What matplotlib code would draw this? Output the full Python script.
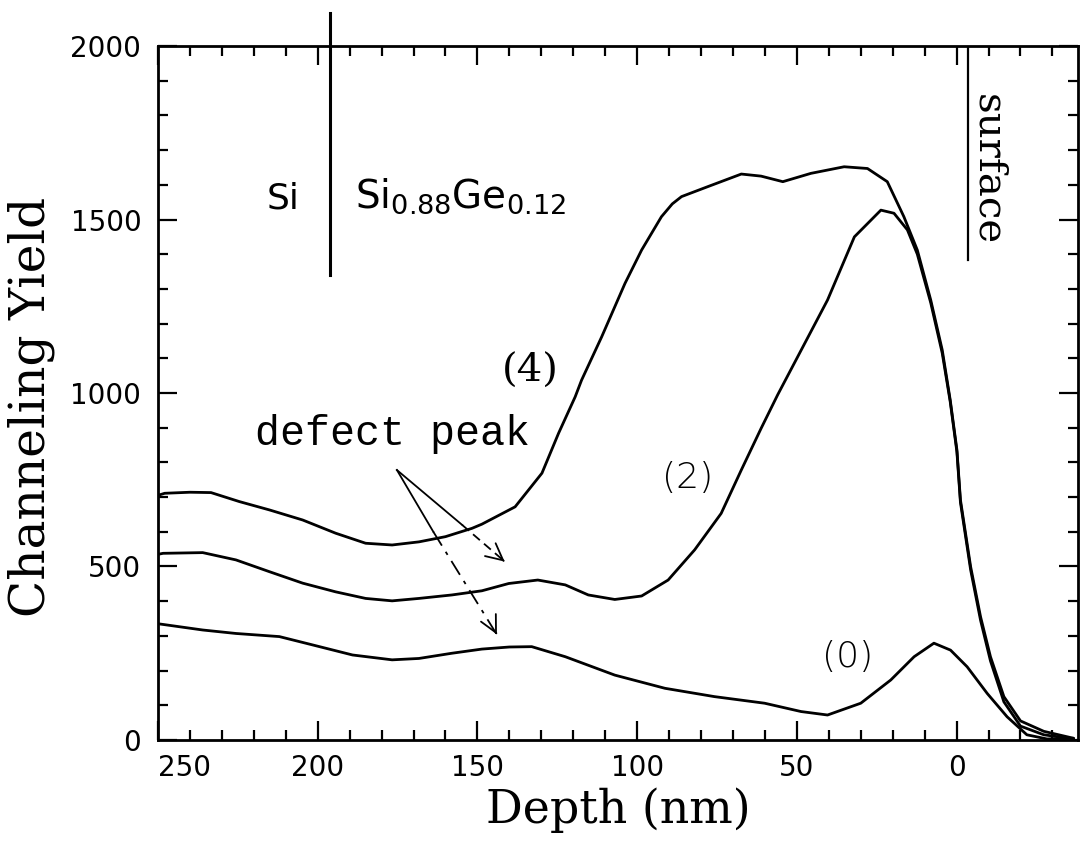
import matplotlib
matplotlib.use("Agg")
import matplotlib.pyplot as plt
from matplotlib.ticker import MultipleLocator

# Channeling yield vs depth, three curves (0), (2), (4)
depth4 = [250, 247.9, 240, 233.4, 224.5, 215.1, 204.7, 194.4, 185, 176.7, 168.3, 160,
          151.7, 148.6, 138.2, 129.8, 124.6, 119.4, 117.4, 111.1, 103.8, 98.6,
          92.4, 89, 86.1, 77.8, 67.4, 61.2, 54.4, 45.6, 35.2, 27.9, 21.7, 16.5,
          12.3, 8.1, 4.5, 2.0, -0.1, -1.2, -4.4, -7.5, -10.6, -14.8, -20, -27.3, -36.6]
yield4 = [705, 711, 714, 713, 687, 663, 634, 596, 567, 562, 571, 586,
          610, 622, 672, 769, 884, 989, 1037, 1162, 1316, 1412,
          1508, 1545, 1566, 1595, 1631, 1625, 1609, 1633, 1652, 1647, 1609, 1508,
          1412, 1268, 1124, 980, 836, 692, 499, 355, 240, 125, 55, 25, 5]

depth2 = [250, 248.4, 236, 225.6, 215.1, 204.7, 194.4, 185, 176.7, 168.3, 158,
          148.6, 140.2, 131.1, 122.5, 115.3, 107, 98.6, 90.3, 82, 73.7, 67.4,
          61.2, 56, 50.8, 40.4, 32, 23.7, 19.6, 15.4, 12.3, 8.1, 4.5, 2.0, -0.1,
          -1.2, -4.4, -7.5, -10.6, -14.8, -20, -27.3, -36.6]
yield2 = [535, 538, 540, 519, 485, 452, 427, 408, 401, 408, 418,
          430, 451, 461, 447, 418, 405, 415, 461, 548, 653, 778,
          898, 995, 1086, 1268, 1450, 1527, 1518, 1470, 1400, 1260, 1115, 975, 830,
          685, 490, 345, 228, 110, 40, 15, 3]

depth0 = [250, 248.4, 236, 225.6, 212, 201.6, 189.1, 176.7, 168.3, 158, 148.6, 140,
          133, 122.5, 107, 91.3, 75.8, 60.1, 48.7, 40.4, 30, 20.6, 13.3, 7.1, 1.9,
          -3.3, -9.6, -15.8, -22, -28.3, -36.6]
yield0 = [335, 333, 317, 307, 298, 274, 245, 231, 235, 250, 262, 268,
          269, 240, 187, 149, 125, 106, 82, 72, 106, 173, 240, 279, 259,
          211, 134, 67, 15, 3, 5]

x_ticks = [250, 200, 150, 100, 50, 0]
y_ticks = [0, 500, 1000, 1500, 2000]

fig = plt.figure(figsize=(10.88, 8.41), dpi=100)
ax = fig.add_axes([0.1452, 0.1201, 0.8456, 0.8252])

for d, y in [(depth4, yield4), (depth2, yield2), (depth0, yield0)]:
    ax.plot(d, y, color="black", lw=2.0, solid_capstyle="round", solid_joinstyle="round")

ax.set_xlim(250, -38)
ax.set_ylim(0, 2000)
ax.set_xticks(x_ticks)
ax.set_yticks(y_ticks)
ax.xaxis.set_minor_locator(MultipleLocator(10))
ax.yaxis.set_minor_locator(MultipleLocator(100))
ax.tick_params(which="both", direction="in", top=True, right=True, width=1.6, colors="black")
ax.tick_params(which="major", length=14)
ax.tick_params(which="minor", length=7)
ax.tick_params(axis="x", labelsize=20, pad=10)
ax.tick_params(axis="y", labelsize=20, pad=12)
ax.get_xticklabels()[0].set_ha("left")
for s in ax.spines.values():
    s.set_linewidth(2.0)

ax.set_xlabel("Depth (nm)", family="DejaVu Serif", fontsize=33, labelpad=4)
ax.set_ylabel("Channeling Yield", family="DejaVu Serif", fontsize=35)
ax.yaxis.set_label_coords(-0.112, 0.48)

# interface and surface markers
ax.plot([196, 196], [1340, 2095], color="black", lw=2.2, clip_on=False)
ax.plot([-3.5, -3.5], [1383, 2000], color="black", lw=1.6)

ax.text(210.8, 1533, "Si", fontsize=26, ha="center", va="baseline")
ax.text(188.3, 1533, r"Si$_{0.88}$Ge$_{0.12}$", fontsize=28, ha="left", va="baseline")
ax.text(-9.7, 1643, "surface", family="DejaVu Serif", fontsize=29, rotation=-90,
        ha="center", va="center")

ax.text(133.5, 1063, "(4)", family="DejaVu Serif", fontsize=29, ha="center", va="center")
ax.text(84.3, 755, "(2)", fontsize=26, ha="center", va="center", fontweight="light")
ax.text(34.1, 239, "(0)", fontsize=26, ha="center", va="center", fontweight="light")

ax.text(219.6, 850, "defect peak", family="Liberation Mono", fontsize=30,
        ha="left", va="baseline")

# arrows from the label to the defect peaks
tail = (175.2, 778)
ax.plot([tail[0], 154.8], [tail[1], 620], color="black", lw=1.3)
ax.plot([154.8, 141.8], [620, 517], color="black", lw=1.3, ls=(0, (5, 3)))
ax.annotate("", xy=(140.8, 509), xytext=(142.5, 522),
            arrowprops=dict(arrowstyle="->", lw=1.3, mutation_scale=30, color="black"))
ax.plot([tail[0], 163.8], [tail[1], 600], color="black", lw=1.3)
ax.plot([163.8, 144.2], [600, 308], color="black", lw=1.3, ls=(0, (9, 4, 2, 4)))
ax.annotate("", xy=(143.5, 297), xytext=(144.5, 315),
            arrowprops=dict(arrowstyle="->", lw=1.3, mutation_scale=30, color="black"))

fig.savefig("out.png", dpi=100)
